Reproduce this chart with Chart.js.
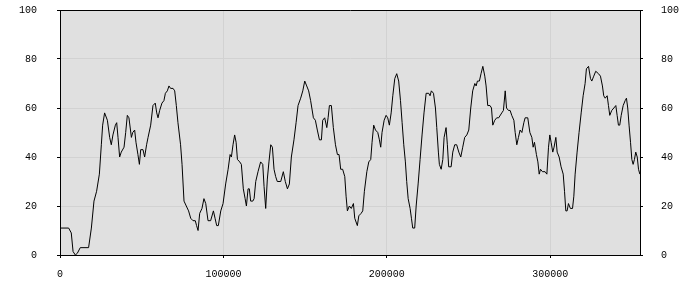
<!DOCTYPE html>
<html>
<head>
<meta charset="utf-8">
<script src="https://cdn.jsdelivr.net/npm/chart.js@4/dist/chart.umd.min.js"></script>
<style>
  html, body { margin:0; padding:0; background:#fff; }
  #wrap { width:700px; height:300px; }
</style>
</head>
<body>
<div id="wrap"><canvas id="chart"></canvas></div>
<script>
// x positions of the samples and the matching values
const xs = [
    0, 5300, 6900, 8000, 9400, 10600, 12400, 17500, 19200, 20800,
    22400, 24100, 25300, 26100, 27300, 29000, 30400, 31400, 32400, 33900,
    34700, 35500, 36500, 37500, 39200, 40200, 41200, 42200, 43700, 44500,
    45700, 46500, 47700, 48600, 49400, 50800, 51800, 53000, 53900, 55500,
    56900, 58300, 59200, 60000, 61000, 62400, 63600, 64500, 65700, 66700,
    67700, 69200, 70200, 71200, 72200, 73800, 74700, 75900, 77300, 78700,
    80000, 81400, 82800, 83600, 84500, 85500, 86900, 88100, 89200, 90600,
    92200, 93900, 94900, 95900, 96900, 98400, 99800, 101400, 102900, 104100,
    104900, 105900, 106900, 107800, 108600, 110000, 111000, 112200, 113300, 114100,
    115100, 115900, 116700, 118000, 118800, 119800, 121200, 122800, 124100, 124900,
    125900, 126900, 127900, 129000, 130000, 131000, 132000, 133000, 135100, 136700,
    137900, 139200, 140400, 141600, 143200, 144500, 145700, 147300, 148600, 149800,
    151000, 152200, 153400, 155100, 156300, 157500, 158800, 160000, 160800, 162000,
    163300, 164100, 164900, 166100, 167300, 168600, 169800, 170800, 171800, 173000,
    174300, 175100, 175900, 177100, 178300, 179600, 180400, 182000, 182900, 184300,
    185300, 186300, 187800, 189000, 190200, 191000, 192000, 193100, 194500, 195500,
    196300, 197100, 198400, 199600, 200600, 201600, 202700, 203700, 204900, 206100,
    207300, 208400, 209400, 210400, 211400, 212200, 213100, 214300, 215100, 215900,
    217100, 218000, 219200, 220400, 221600, 222800, 224100, 225700, 226500, 227300,
    228600, 229800, 230600, 231600, 232200, 233300, 234300, 235100, 236300, 237100,
    237900, 239400, 240400, 241600, 242800, 244100, 245300, 246500, 247700, 249000,
    250200, 251400, 252600, 253900, 254700, 255500, 256700, 257700, 258800, 260000,
    260800, 261800, 263200, 264100, 264900, 266100, 267300, 268500, 270400, 271400,
    272500, 273300, 274500, 275500, 276500, 277800, 278600, 279600, 280600, 281600,
    282700, 283900, 284700, 286300, 287600, 288800, 289600, 290400, 291600, 292500,
    293300, 294100, 295300, 296900, 298000, 299000, 299800, 300600, 301600, 302400,
    303500, 304300, 305500, 306700, 308000, 308800, 309600, 310400, 311200, 312400,
    313700, 314500, 315300, 316500, 317700, 319000, 320200, 321400, 322200, 323500,
    324700, 325500, 326700, 327900, 329600, 330800, 332000, 332800, 333700, 334900,
    335700, 336500, 337700, 339000, 340200, 341000, 341800, 342600, 343500, 344700,
    345900, 346700, 347500, 348300, 349200, 350000, 350800, 351600, 352400, 353300,
    354100, 354900
];
const ys = [
    11, 11, 9, 1.4, 0, 0.7, 3, 3, 11, 22,
    26, 33, 45, 53, 58, 55, 48, 45, 49, 53,
    54, 48, 40, 42, 44, 50, 57, 56, 48, 50,
    51, 46, 41, 37, 43, 43, 40, 45, 48, 53,
    61, 62, 58, 56, 59, 62, 63, 66, 67, 69,
    68, 68, 67, 61, 54, 45, 37, 22, 20, 18,
    15, 14, 14, 12, 10, 17, 19, 23, 21, 14,
    14, 18, 15, 12, 12, 18, 21, 29, 35, 41,
    40, 45, 49, 46, 39, 38, 37, 27, 23, 20,
    27, 27, 22, 22, 23, 30, 34, 38, 37, 28,
    19, 31, 38, 45, 44, 35, 32, 30, 30, 34,
    30, 27, 29, 40, 47, 54, 61, 64, 67, 71,
    69, 67, 63, 56, 55, 51, 47, 47, 55, 56,
    52, 56, 61, 61, 52, 45, 41, 41, 35, 35,
    32, 24, 18, 20, 19, 21, 15, 12, 16, 17,
    18, 26, 34, 38, 39, 46, 53, 51, 50, 47,
    44, 50, 55, 57, 56, 53, 58, 65, 72, 74,
    71, 63, 54, 45, 38, 30, 23, 19, 15, 11,
    11, 20, 29, 39, 49, 58, 66, 66, 65, 67,
    66, 60, 52, 42, 37, 35, 39, 48, 52, 45,
    36, 36, 42, 45, 45, 42, 40, 44, 48, 49,
    51, 60, 67, 70, 69, 71, 71, 74, 77, 73,
    69, 61, 61, 60, 53, 55, 56, 56, 58, 59,
    67, 60, 59, 59, 57, 55, 50, 45, 48, 51,
    50, 54, 56, 56, 50, 48, 44, 46, 41, 38,
    33, 35, 34, 34, 33, 44, 49, 46, 42, 44,
    48, 42, 40, 36, 33, 26, 18, 18, 21, 19,
    19, 24, 33, 42, 50, 58, 65, 70, 76, 77,
    72, 71, 73, 75, 74, 73, 69, 65, 64, 65,
    61, 57, 59, 60, 61, 57, 53, 53, 57, 61,
    63, 64, 60, 53, 46, 39, 37, 39, 42, 40,
    35, 33
];
const xTicks = [0, 100000, 200000, 300000];
const yTicks = [0, 20, 40, 60, 80, 100];

const points = xs.map((x, i) => ({x: x, y: ys[i]}));
const font = {family: "Liberation Mono", size: 10};
const gridGray = "#d2d2d2";

// gray plot background
const plotBg = {
    id: "plotBg",
    beforeDraw(chart) {
        const a = chart.chartArea, c = chart.ctx;
        c.save();
        c.fillStyle = "#e0e0e0";
        c.fillRect(a.left, a.top, a.right - a.left, a.bottom - a.top);
        c.restore();
    }
};

function yAxis(pos) {
    return {
        type: "linear",
        position: pos,
        min: 0, max: 100,
        afterBuildTicks: s => { s.ticks = yTicks.map(v => ({value: v})); },
        // fixed axis width; drop the label padding chart.js adds above/below
        afterFit: s => { s.width = 60; s.paddingTop = 0; s.paddingBottom = 0; },
        ticks: {color: "#000", font: font, padding: pos === "left" ? 20 : 18},
        grid: {
            drawOnChartArea: pos === "left",
            color: c => (c.tick && (c.tick.value === 100 || c.tick.value === 0)) ? "#000" : gridGray,
            tickColor: "#000",
            tickLength: 3
        },
        border: {color: "#000", width: 1}
    };
}

new Chart(document.getElementById("chart"), {
    type: "line",
    data: {
        datasets: [{
            data: points,
            borderColor: "#000",
            borderWidth: 1,
            pointRadius: 0,
            tension: 0,
            fill: false
        }]
    },
    options: {
        responsive: true,
        maintainAspectRatio: false,
        animation: false,
        events: [],
        layout: {padding: {top: 10, left: 0, right: 0, bottom: 0}},
        plugins: {legend: {display: false}, tooltip: {enabled: false}},
        scales: {
            x: {
                type: "linear",
                min: 0, max: 355000,
                afterBuildTicks: s => { s.ticks = xTicks.map(v => ({value: v})); },
                afterFit: s => { s.height = 45; s.paddingLeft = 0; s.paddingRight = 0; },
                ticks: {color: "#000", font: font, padding: 10, maxRotation: 0,
                        callback: v => String(v)},
                grid: {
                    color: c => (c.tick && c.tick.value === 0) ? "#000" : gridGray,
                    tickColor: "#000",
                    tickLength: 3
                },
                border: {color: "#000", width: 1}
            },
            y: yAxis("left"),
            y2: yAxis("right")
        }
    },
    plugins: [plotBg]
});
</script>
</body>
</html>
